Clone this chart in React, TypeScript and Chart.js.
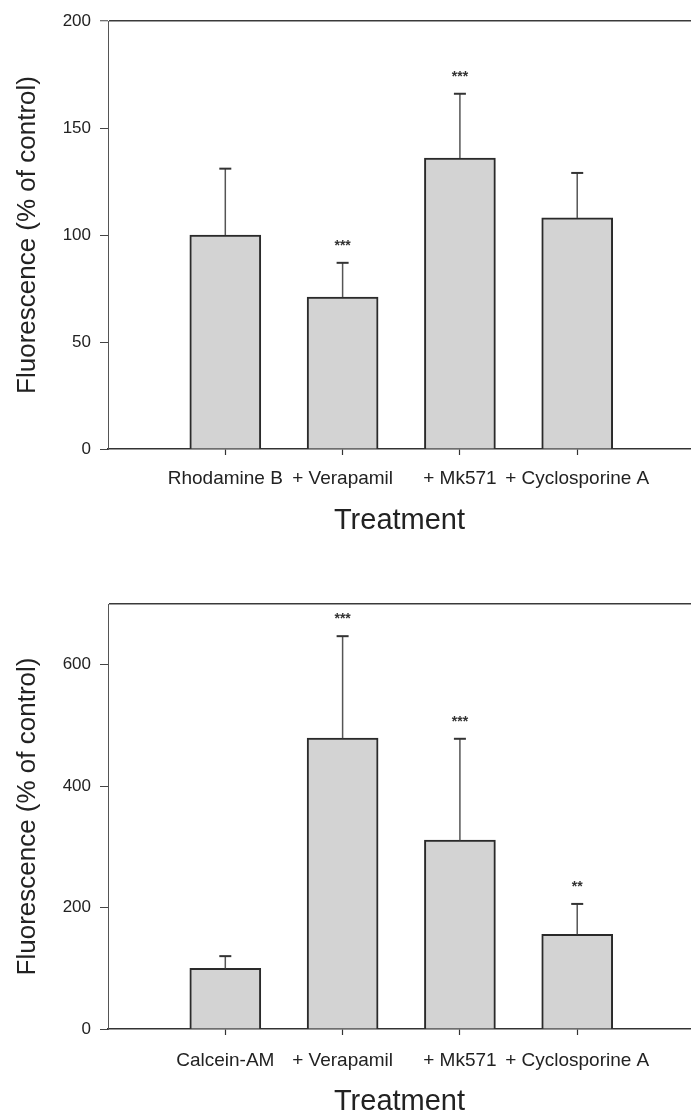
import React, { useEffect, useRef } from 'react';
import { Chart, registerables } from 'chart.js';

Chart.register(...registerables);

const FONT = "'Liberation Sans', Arial, Helvetica, sans-serif";

const X_TITLE = 'Treatment';
const Y_TITLE = 'Fluorescence (% of control)';

// Top panel (Rhodamine B)
const TOP_CATEGORIES = ['Rhodamine B', '+ Verapamil', '+ Mk571', '+ Cyclosporine A'];
const TOP_MEANS = [100, 71, 136, 108];
const TOP_ERRORS = [31, 16, 30, 21];
const TOP_SIG = ['', '***', '***', ''];
const TOP_Y_MAX = 200;
const TOP_Y_STEP = 50;

// Bottom panel (Calcein-AM)
const BOTTOM_CATEGORIES = ['Calcein-AM', '+ Verapamil', '+ Mk571', '+ Cyclosporine A'];
const BOTTOM_MEANS = [100, 479, 311, 156];
const BOTTOM_ERRORS = [20, 168, 167, 50];
const BOTTOM_SIG = ['', '***', '***', '**'];
const BOTTOM_Y_MAX = 700;
const BOTTOM_Y_STEP = 200;

const X_MIN = 0;
const X_MAX = 4.97;

const CANVAS_W = 691;
const CANVAS_H = 560;

const errorBarPlugin = {
  id: 'errorBars',
  afterDatasetsDraw(chart: any, _args: any, opts: any) {
    const meta = chart.getDatasetMeta(0);
    const ys = chart.scales.y;
    const ctx = chart.ctx;
    ctx.save();
    meta.data.forEach((bar: any, i: number) => {
      const v = chart.data.datasets[0].data[i].y;
      const e = opts.errors[i];
      const x = bar.x;
      const yTop = ys.getPixelForValue(v);
      const yCap = ys.getPixelForValue(v + e);
      ctx.strokeStyle = '#555';
      ctx.lineWidth = 1.5;
      ctx.beginPath();
      ctx.moveTo(x, yTop);
      ctx.lineTo(x, yCap);
      ctx.stroke();
      ctx.strokeStyle = '#333';
      ctx.lineWidth = 2;
      ctx.beginPath();
      ctx.moveTo(x - 6, yCap);
      ctx.lineTo(x + 6, yCap);
      ctx.stroke();
      if (opts.sig[i]) {
        ctx.fillStyle = '#333';
        ctx.font = `bold 14px ${FONT}`;
        ctx.textAlign = 'center';
        ctx.textBaseline = 'alphabetic';
        ctx.fillText(opts.sig[i], x, yCap - 21 + 8);
      }
    });
    ctx.restore();
  },
};

function makeConfig(p: any): any {
  return {
    type: 'bar',
    data: {
      datasets: [
        {
          data: p.means.map((v: number, i: number) => ({ x: i + 1, y: v })),
          backgroundColor: '#d3d3d3',
          borderColor: '#2a2a2a',
          borderWidth: 2,
          barThickness: 71,
        },
      ],
    },
    options: {
      responsive: false,
      animation: false,
      devicePixelRatio: 1,
      layout: { padding: { top: p.padTop, left: 0, right: 0, bottom: 0 } },
      plugins: {
        legend: { display: false },
        tooltip: { enabled: false },
        errorBars: { errors: p.errors, sig: p.sig },
      },
      scales: {
        x: {
          type: 'linear',
          min: X_MIN,
          max: X_MAX,
          offset: false,
          afterBuildTicks: (s: any) => {
            s.ticks = p.categories.map((_: string, i: number) => ({ value: i + 1 }));
          },
          afterFit: (s: any) => {
            s.height = p.xHeight;
          },
          grid: {
            display: true,
            drawOnChartArea: false,
            offset: false,
            color: 'rgba(0,0,0,0)',
            tickColor: '#333',
            tickLength: 6,
            tickWidth: 1.2,
          },
          border: { display: true, color: '#333', width: 1.5 },
          ticks: {
            autoSkip: false,
            maxRotation: 0,
            minRotation: 0,
            padding: p.xTickPad,
            color: '#222',
            font: { family: FONT, size: 19 },
            callback: (v: number) => p.categories[v - 1] ?? '',
          },
          title: {
            display: true,
            text: X_TITLE,
            color: '#222',
            font: { family: FONT, size: 29 },
            padding: { top: 0, bottom: p.xTitlePad },
          },
        },
        y: {
          min: 0,
          max: p.yMax,
          afterFit: (s: any) => {
            s.width = 108;
          },
          ticks: {
            stepSize: p.yStep,
            padding: 9,
            color: '#222',
            font: { family: FONT, size: 17 },
            callback: (v: number) => (p.hideMax && v === p.yMax ? '' : String(v)),
          },
          grid: {
            display: true,
            drawOnChartArea: true,
            color: (c: any) => (c.tick && c.tick.value === p.yMax ? '#3a3a3a' : 'rgba(0,0,0,0)'),
            lineWidth: (c: any) => (c.tick && c.tick.value === p.yMax ? 1.5 : 1),
            tickColor: (c: any) => (p.hideMax && c.tick && c.tick.value === p.yMax ? 'rgba(0,0,0,0)' : '#444'),
            tickLength: 8,
            tickWidth: 1,
          },
          border: { display: true, color: '#555', width: 1 },
          title: {
            display: true,
            text: Y_TITLE,
            color: '#222',
            font: { family: FONT, size: 26 },
            padding: { top: 12, bottom: 0 },
          },
        },
      },
    },
    plugins: [errorBarPlugin],
  };
}

function ChartPanel({ params, top }: { params: any; top: number }) {
  const ref = useRef<HTMLCanvasElement | null>(null);
  useEffect(() => {
    if (!ref.current) return;
    const chart = new Chart(ref.current, makeConfig(params));
    return () => chart.destroy();
  }, []);
  return (
    <canvas
      ref={ref}
      width={CANVAS_W}
      height={CANVAS_H}
      style={{ position: 'absolute', left: 0, top, display: 'block', width: CANVAS_W, height: CANVAS_H }}
    />
  );
}

export default function App() {
  const top = {
    categories: TOP_CATEGORIES,
    means: TOP_MEANS,
    errors: TOP_ERRORS,
    sig: TOP_SIG,
    yMax: TOP_Y_MAX,
    yStep: TOP_Y_STEP,
    hideMax: false,
    padTop: 21,
    xHeight: 111,
    xTickPad: 12,
    xTitlePad: 22,
  };
  const bottom = {
    categories: BOTTOM_CATEGORIES,
    means: BOTTOM_MEANS,
    errors: BOTTOM_ERRORS,
    sig: BOTTOM_SIG,
    yMax: BOTTOM_Y_MAX,
    yStep: BOTTOM_Y_STEP,
    hideMax: true,
    padTop: 44,
    xHeight: 91,
    xTickPad: 14,
    xTitlePad: 1,
  };
  return (
    <div
      style={{
        position: 'absolute',
        left: 0,
        top: 0,
        width: 691,
        height: 1113,
        overflow: 'hidden',
        background: '#fff',
      }}
    >
      <ChartPanel params={top} top={0} />
      <ChartPanel params={bottom} top={560} />
    </div>
  );
}
